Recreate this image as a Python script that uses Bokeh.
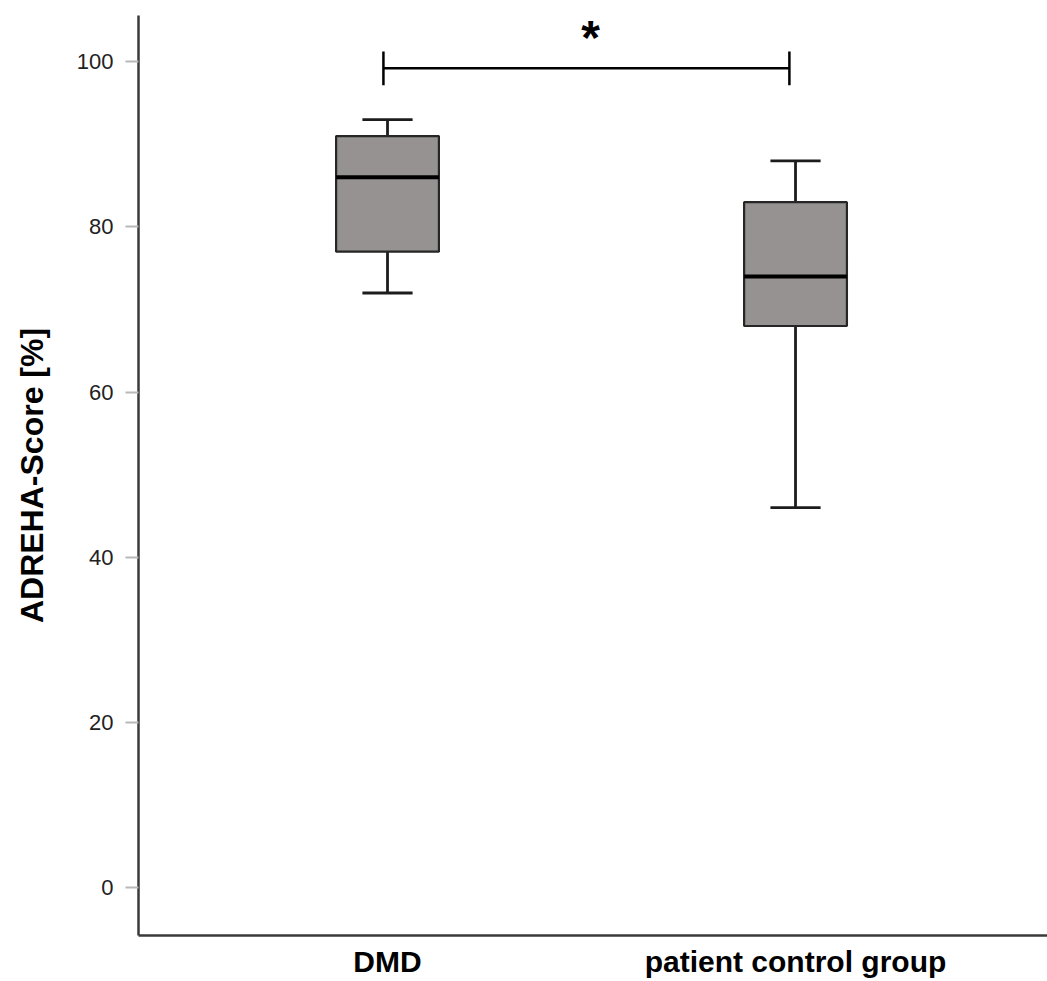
from bokeh.plotting import figure
from bokeh.models import Range1d, FixedTicker, ColumnDataSource
from bokeh.core.properties import value
from bokeh.embed import file_html
from bokeh.resources import INLINE

# ---- data ----
categories = ["DMD", "patient control group"]
whisker_low = [72, 46]
q1 = [77, 68]
median = [86, 74]
q3 = [91, 83]
whisker_high = [93, 88]
y_ticks = [0, 20, 40, 60, 80, 100]
significance = "*"

positions = [i + 1 for i in range(len(categories))]

FONT = "Liberation Sans"
box_w = 0.252
cap_w = 0.123

p = figure(width=1047, height=981, output_backend="svg", toolbar_location=None,
           x_range=Range1d(0.3897, 2.6176), y_range=Range1d(-5.8, 105.6),
           min_border_left=138, min_border_right=0, min_border_top=15,
           min_border_bottom=46)
p.outline_line_color = None
p.xgrid.visible = False
p.ygrid.visible = False
p.background_fill_color = "white"
p.border_fill_color = "white"

src = ColumnDataSource(dict(
    x=positions,
    x0=[x - box_w / 2 for x in positions],
    x1=[x + box_w / 2 for x in positions],
    c0=[x - cap_w / 2 for x in positions],
    c1=[x + cap_w / 2 for x in positions],
    lo=whisker_low, q1=q1, med=median, q3=q3, hi=whisker_high,
))

wcol = "#1c1c1c"
# whiskers
p.segment(x0="x", y0="q3", x1="x", y1="hi", source=src, line_color=wcol, line_width=2.8)
p.segment(x0="x", y0="q1", x1="x", y1="lo", source=src, line_color=wcol, line_width=2.8)
p.segment(x0="c0", y0="hi", x1="c1", y1="hi", source=src, line_color=wcol, line_width=2.8)
p.segment(x0="c0", y0="lo", x1="c1", y1="lo", source=src, line_color=wcol, line_width=2.8)
# boxes
p.quad(left="x0", right="x1", bottom="q1", top="q3", source=src,
       fill_color="#959291", line_color="#262626", line_width=2.2)
# medians
p.segment(x0="x0", y0="med", x1="x1", y1="med", source=src, line_color="black", line_width=4)

# significance bracket
bx0 = positions[0] - 0.01
bx1 = positions[1] - 0.015
by = 99.2
tick_h = 2.05
p.segment(x0=[bx0, bx0, bx1], y0=[by, by - tick_h, by - tick_h],
          x1=[bx1, bx0, bx1], y1=[by, by + tick_h, by + tick_h],
          line_color="black", line_width=2.5)
p.text(x=[1.4975], y=[102.9], text=[significance], text_align="center",
       text_baseline="alphabetic", text_font=value(FONT), text_font_size="48px",
       text_font_style="bold", text_color="black")

# y axis
yax = p.yaxis[0]
yax.ticker = FixedTicker(ticks=y_ticks)
yax.minor_tick_line_color = None
yax.major_tick_in = 0
yax.major_tick_out = 13
yax.major_tick_line_color = "#b8b8b8"
yax.major_tick_line_width = 2
yax.axis_line_color = "#3a3a3a"
yax.axis_line_width = 2.5
yax.major_label_text_font = FONT
yax.major_label_text_font_size = "22px"
yax.major_label_text_color = "#222222"
yax.major_label_standoff = 12
yax.axis_label = "ADREHA-Score [%]"
yax.axis_label_text_font = FONT
yax.axis_label_text_font_size = "32px"
yax.axis_label_text_font_style = "bold"
yax.axis_label_text_color = "black"
yax.axis_label_standoff = 24

# x axis
xax = p.xaxis[0]
xax.ticker = FixedTicker(ticks=positions)
xax.major_label_overrides = {pos: cat for pos, cat in zip(positions, categories)}
xax.major_tick_line_color = None
xax.minor_tick_line_color = None
xax.major_tick_in = 0
xax.major_tick_out = 0
xax.axis_line_color = "#3a3a3a"
xax.axis_line_width = 2.5
xax.major_label_text_font = FONT
xax.major_label_text_font_size = "30px"
xax.major_label_text_font_style = "bold"
xax.major_label_text_color = "black"
xax.major_label_standoff = 9

open("out.html", "w").write(file_html(p, INLINE))
